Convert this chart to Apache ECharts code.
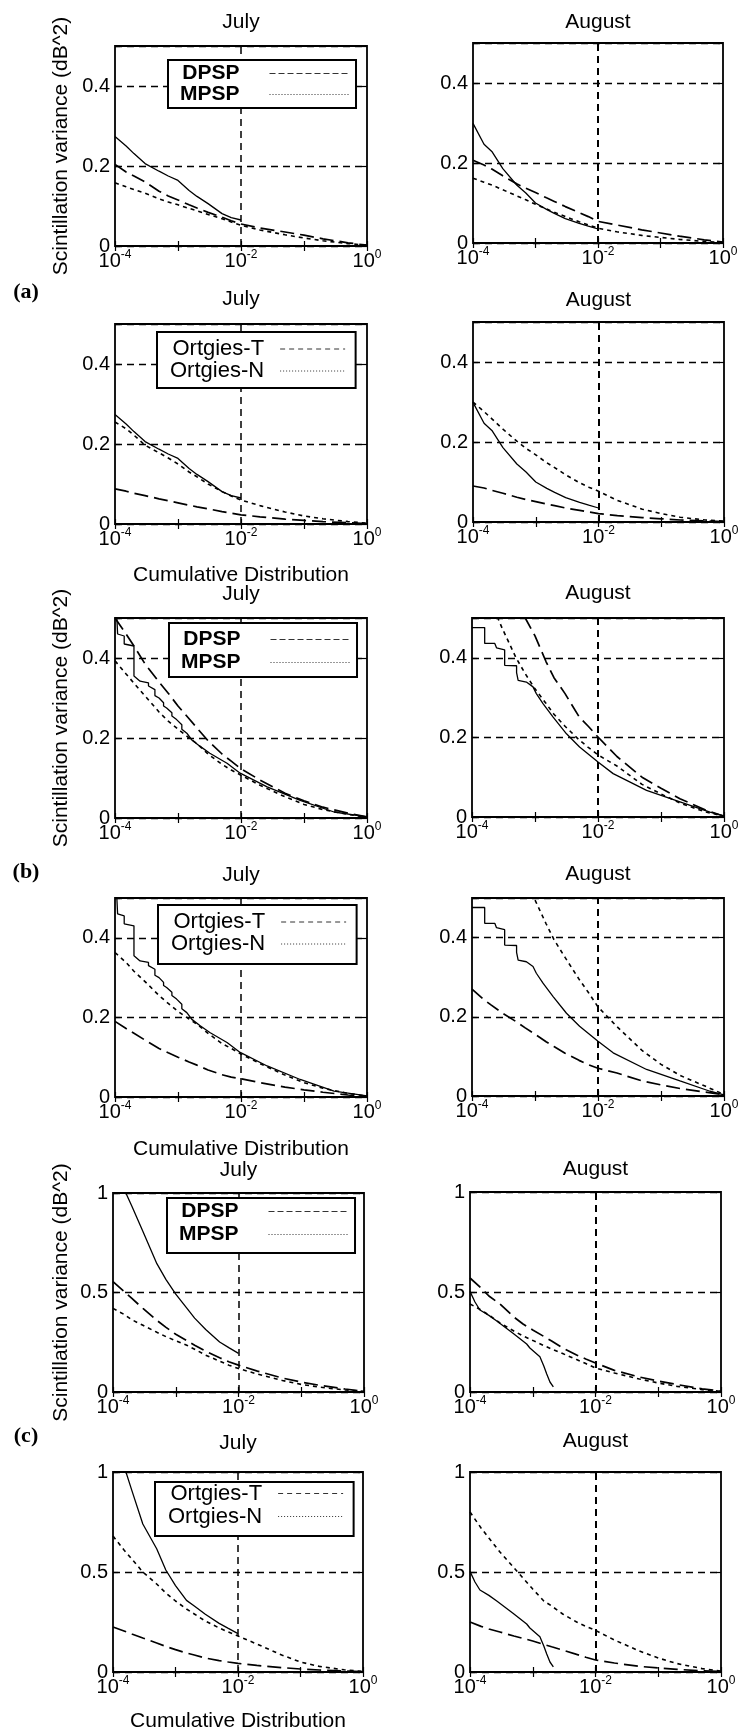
<!DOCTYPE html>
<html><head><meta charset="utf-8">
<script src="https://cdn.jsdelivr.net/npm/echarts@6/dist/echarts.min.js"></script>
<style>html,body{margin:0;padding:0;background:#fff}#c{width:742px;height:1734px}</style>
</head><body><div id="c"></div>
<script>
// ---------------- DATA ----------------
// shared x sample points (cumulative distribution)
const cdf = [1e-4,1.5e-4,2e-4,3e-4,5e-4,7e-4,1e-3,1.5e-3,2e-3,3e-3,5e-3,7e-3,1e-2,2e-2,5e-2,0.1,0.2,0.5,1];
const xTickLabels = ['10^-4','10^-2','10^0'];
const yTicksHalf = [0, 0.2, 0.4];
const yTicksOne = [0, 0.5, 1];

// (a) measured (on cdf grid, ends at 1e-2)
const measuredJulyA = [0.274,0.250,0.231,0.206,0.187,0.175,0.164,0.139,0.124,0.106,0.081,0.071,0.065];
const measuredAugA  = [0.299,0.247,0.229,0.186,0.145,0.125,0.100,0.084,0.074,0.061,0.049,0.042,0.035];
// (a) models
const dpspJulyA = [0.204,0.185,0.175,0.160,0.137,0.125,0.115,0.103,0.095,0.084,0.072,0.063,0.055,0.045,0.035,0.027,0.018,0.008,0.002];
const mpspJulyA = [0.158,0.148,0.141,0.132,0.118,0.110,0.103,0.094,0.088,0.079,0.068,0.060,0.052,0.040,0.028,0.020,0.013,0.006,0.002];
const dpspAugA  = [0.207,0.195,0.185,0.168,0.148,0.137,0.126,0.113,0.104,0.091,0.076,0.066,0.054,0.045,0.033,0.025,0.017,0.008,0.002];
const mpspAugA  = [0.162,0.152,0.145,0.133,0.118,0.108,0.097,0.085,0.077,0.066,0.053,0.045,0.037,0.028,0.019,0.014,0.009,0.004,0.001];
const ortgiesTJulyA = [0.088,0.082,0.077,0.071,0.063,0.058,0.053,0.047,0.043,0.038,0.031,0.027,0.023,0.018,0.012,0.009,0.006,0.003,0.001];
const ortgiesNJulyA = [0.255,0.238,0.222,0.197,0.178,0.165,0.150,0.130,0.118,0.100,0.081,0.070,0.060,0.046,0.030,0.020,0.013,0.006,0.002];
const ortgiesTAugA  = [0.090,0.085,0.079,0.072,0.062,0.056,0.051,0.045,0.041,0.035,0.029,0.025,0.021,0.016,0.011,0.008,0.005,0.003,0.001];
const ortgiesNAugA  = [0.300,0.276,0.258,0.232,0.202,0.184,0.168,0.148,0.136,0.118,0.098,0.087,0.077,0.054,0.032,0.021,0.012,0.005,0.002];

// (b) measured (stepped, [cdf, variance] pairs)
const measuredJulyB = [[1.07e-4,0.5],[1.1e-4,0.46],[1.4e-4,0.455],[1.4e-4,0.435],[2.0e-4,0.43],[2.0e-4,0.355],[2.5e-4,0.342],[3.4e-4,0.338],[3.4e-4,0.33],[4.3e-4,0.321],[4.3e-4,0.306],[5.0e-4,0.3],[5.9e-4,0.288],[5.9e-4,0.28],[6.6e-4,0.275],[8.0e-4,0.263],[8.0e-4,0.255],[9.5e-4,0.246],[1.15e-3,0.233],[1.15e-3,0.222],[1.38e-3,0.212],[1.66e-3,0.195],[2.25e-3,0.179],[3.2e-3,0.162],[6.0e-3,0.137],[9.7e-3,0.112],[2.6e-2,0.078],[8.7e-2,0.044],[0.3,0.015],[1,0.003]];
const measuredAugB = [[1.0e-4,0.476],[1.59e-4,0.476],[1.59e-4,0.436],[2.3e-4,0.436],[2.45e-4,0.425],[3.3e-4,0.42],[3.3e-4,0.381],[5.1e-4,0.38],[5.1e-4,0.363],[5.4e-4,0.343],[7.3e-4,0.339],[9.3e-4,0.327],[1.05e-3,0.31],[1.34e-3,0.285],[1.94e-3,0.251],[3.16e-3,0.209],[5.1e-3,0.176],[1e-2,0.138],[1.74e-2,0.109],[5.9e-2,0.067],[0.2,0.038],[0.6,0.012],[1,0.003]];
// (b) models
const dpspJulyB = [0.50,0.46,0.43,0.385,0.34,0.312,0.28,0.248,0.225,0.193,0.16,0.142,0.123,0.095,0.062,0.043,0.027,0.012,0.003];
const mpspJulyB = [0.393,0.36,0.337,0.305,0.265,0.242,0.222,0.2,0.186,0.16,0.134,0.12,0.107,0.082,0.053,0.034,0.021,0.009,0.002];
const dpspAugB  = [null,null,null,null,0.55,0.5,0.455,0.39,0.35,0.31,0.252,0.228,0.201,0.152,0.1,0.072,0.046,0.018,0.002];
const mpspAugB  = [null,null,0.54,0.475,0.40,0.36,0.322,0.285,0.258,0.228,0.194,0.175,0.156,0.128,0.082,0.058,0.035,0.013,0.002];
const ortgiesTJulyB = [0.19,0.172,0.16,0.143,0.122,0.111,0.1,0.088,0.08,0.068,0.056,0.05,0.046,0.036,0.025,0.018,0.012,0.005,0.001];
const ortgiesNJulyB = [0.363,0.338,0.316,0.29,0.255,0.235,0.215,0.196,0.183,0.16,0.134,0.122,0.108,0.084,0.055,0.036,0.022,0.009,0.002];
const ortgiesTAugB  = [0.27,0.245,0.23,0.21,0.188,0.172,0.156,0.137,0.125,0.108,0.09,0.079,0.07,0.058,0.038,0.028,0.019,0.01,0.003];
const ortgiesNAugB  = [null,null,null,null,null,0.55,0.495,0.435,0.395,0.35,0.295,0.262,0.225,0.175,0.115,0.08,0.052,0.025,0.004];

// (c) measured
const measuredJulyC1 = [null,1.02,0.933,0.806,0.645,0.565,0.492,0.421,0.371,0.314,0.251,0.223,0.194];
const measuredJulyC2 = [null,1.03,0.908,0.74,0.616,0.51,0.432,0.358,0.33,0.289,0.243,0.218,0.192];
const measuredAugC = [[1e-4,0.503],[1.2e-4,0.45],[1.44e-4,0.41],[2e-4,0.383],[2.67e-4,0.355],[4.9e-4,0.293],[8e-4,0.24],[9e-4,0.22],[1.3e-3,0.176],[1.5e-3,0.13],[1.67e-3,0.09],[1.88e-3,0.05],[2.13e-3,0.026]];
// (c) models
const dpspJulyC = [0.555,0.505,0.47,0.42,0.36,0.325,0.29,0.258,0.235,0.205,0.172,0.152,0.135,0.105,0.07,0.05,0.033,0.015,0.003];
const mpspJulyC = [0.42,0.39,0.363,0.335,0.3,0.278,0.258,0.235,0.215,0.185,0.155,0.135,0.118,0.09,0.058,0.038,0.024,0.01,0.003];
const dpspAugC  = [0.57,0.52,0.48,0.44,0.375,0.34,0.31,0.278,0.255,0.22,0.185,0.165,0.145,0.108,0.075,0.055,0.037,0.016,0.004];
const mpspAugC  = [0.44,0.41,0.385,0.345,0.305,0.28,0.258,0.232,0.215,0.192,0.162,0.142,0.12,0.095,0.065,0.045,0.028,0.012,0.003];
const ortgiesTJulyC = [0.225,0.205,0.19,0.17,0.145,0.128,0.112,0.095,0.085,0.07,0.057,0.05,0.043,0.033,0.022,0.015,0.01,0.005,0.002];
const ortgiesNJulyC = [0.68,0.61,0.565,0.5,0.44,0.395,0.355,0.315,0.29,0.255,0.22,0.2,0.18,0.14,0.085,0.05,0.028,0.011,0.003];
const ortgiesTAugC  = [0.25,0.228,0.215,0.2,0.18,0.168,0.155,0.138,0.126,0.11,0.088,0.074,0.06,0.045,0.028,0.02,0.013,0.006,0.002];
const ortgiesNAugC  = [0.8,0.72,0.67,0.6,0.522,0.47,0.415,0.355,0.33,0.29,0.25,0.228,0.208,0.16,0.105,0.07,0.042,0.017,0.005];

// ---------------- LAYOUT / STYLE ----------------
const FONT = '"Liberation Sans", Arial, Helvetica, sans-serif';
const grids = [
  {left:115, top:46, width:252, height:200}, {left:473, top:43, width:250, height:200},
  {left:115, top:324, width:252, height:200}, {left:473, top:322, width:251, height:200},
  {left:115, top:618, width:252, height:200}, {left:472, top:618, width:252, height:199},
  {left:115, top:898, width:252, height:199}, {left:472, top:898, width:252, height:198},
  {left:113, top:1193, width:251, height:199}, {left:470, top:1192, width:251, height:200},
  {left:113, top:1472, width:250, height:200}, {left:470, top:1472, width:251, height:200}
];
const titleY = [22,22,299,300,594,593,875,874,1170,1169,1443,1441];

const panels = [
  {title:'July',   ymax:0.5, meas:measuredJulyA, models:[['DPSP',dpspJulyA],['MPSP',mpspJulyA]]},
  {title:'August', ymax:0.5, meas:measuredAugA,  models:[['DPSP',dpspAugA],['MPSP',mpspAugA]]},
  {title:'July',   ymax:0.5, meas:measuredJulyA, models:[['Ortgies-T',ortgiesTJulyA],['Ortgies-N',ortgiesNJulyA]]},
  {title:'August', ymax:0.5, meas:measuredAugA,  models:[['Ortgies-T',ortgiesTAugA],['Ortgies-N',ortgiesNAugA]]},
  {title:'July',   ymax:0.5, meas:measuredJulyB, models:[['DPSP',dpspJulyB],['MPSP',mpspJulyB]]},
  {title:'August', ymax:0.5, meas:measuredAugB,  models:[['DPSP',dpspAugB],['MPSP',mpspAugB]]},
  {title:'July',   ymax:0.5, meas:measuredJulyB, models:[['Ortgies-T',ortgiesTJulyB],['Ortgies-N',ortgiesNJulyB]]},
  {title:'August', ymax:0.5, meas:measuredAugB,  models:[['Ortgies-T',ortgiesTAugB],['Ortgies-N',ortgiesNAugB]]},
  {title:'July',   ymax:1,   meas:measuredJulyC1, models:[['DPSP',dpspJulyC],['MPSP',mpspJulyC]]},
  {title:'August', ymax:1,   meas:measuredAugC,  models:[['DPSP',dpspAugC],['MPSP',mpspAugC]]},
  {title:'July',   ymax:1,   meas:measuredJulyC2, models:[['Ortgies-T',ortgiesTJulyC],['Ortgies-N',ortgiesNJulyC]]},
  {title:'August', ymax:1,   meas:measuredAugC,  models:[['Ortgies-T',ortgiesTAugC],['Ortgies-N',ortgiesNAugC]]}
];

const curveStyle = {
  'Measured':  {color:'#000', width:1.3, type:'solid'},
  'DPSP':      {color:'#000', width:1.7, type:[14,6]},
  'Ortgies-T': {color:'#000', width:1.7, type:[14,6]},
  'MPSP':      {color:'#000', width:1.6, type:[4,4]},
  'Ortgies-N': {color:'#000', width:1.6, type:[4,4]}
};
const legendSample = {
  'DPSP':      {color:'#333', width:1, type:[6,3]},
  'MPSP':      {color:'#333', width:1, type:[1,2]},
  'Ortgies-T': {color:'#333', width:1, type:[5,4]},
  'Ortgies-N': {color:'#333', width:1, type:[1,2]}
};
const legendBoxes = {
  0:  {left:168, top:60,   row:20, pad:[3,6,3,12],  bold:true,  fs:21, gap:25, w:80},
  2:  {left:157, top:332,  row:22, pad:[6,10,6,13], bold:false, fs:22, gap:11, w:65},
  4:  {left:169, top:623,  row:23, pad:[5,6,3,12],  bold:true,  fs:21, gap:25, w:80},
  6:  {left:158, top:905,  row:21, pad:[6,10,9,13], bold:false, fs:22, gap:11, w:65},
  8:  {left:167, top:1198, row:23, pad:[2,6,7,12],  bold:true,  fs:21, gap:25, w:80},
  10: {left:155, top:1482, row:23, pad:[0,10,8,13], bold:false, fs:22, gap:11, w:65}
};

function toPairs(arr) {
  if (Array.isArray(arr[0])) return arr.map(p => [p[0], p[1]]);
  const out = [];
  arr.forEach((v, i) => { if (v != null) out.push([cdf[i], v]); });
  return out;
}
function expLabel(v) {
  const e = Math.round(Math.log10(v));
  const lbl = '10^' + e;
  if (xTickLabels.indexOf(lbl) < 0) return '';
  return '{b|10}{s|' + e + '}';
}

const gridOpt = [], xAxes = [], yAxes = [], series = [], legends = [], texts = [];
panels.forEach((p, i) => {
  const g = grids[i];
  gridOpt.push(Object.assign({show:true, borderColor:'#000', borderWidth:1.8, backgroundColor:'transparent', outerBoundsMode:'none', containLabel:false}, g));
  const xCommon = {type:'log', logBase:10, gridIndex:i, min:1e-4, max:1, splitNumber:4,
    axisLine:{show:false}, splitLine:{show:false},
    axisTick:{show:true, inside:true, length:5, lineStyle:{color:'#000', width:1.2}}};
  xAxes.push(Object.assign({}, xCommon, {position:'bottom',
    axisLabel:{show:true, showMinLabel:true, showMaxLabel:true, margin:3, color:'#000', fontFamily:FONT,
      formatter: expLabel,
      rich:{b:{fontSize:20, fontFamily:FONT, color:'#000', lineHeight:22, verticalAlign:'bottom'},
            s:{fontSize:12, fontFamily:FONT, color:'#000', lineHeight:12, verticalAlign:'top'}}}}));
  xAxes.push(Object.assign({}, xCommon, {position:'top', axisLabel:{show:false}}));
  const ticks = p.ymax === 1 ? yTicksOne : yTicksHalf;
  const yCommon = {type:'value', gridIndex:i, min:0, max:p.ymax, interval: p.ymax === 1 ? 0.5 : 0.2,
    axisLine:{show:false},
    axisTick:{show:true, inside:true, length:5, lineStyle:{color:'#000', width:1.2}}};
  yAxes.push(Object.assign({}, yCommon, {position:'left',
    axisLabel:{show:true, showMinLabel:true, showMaxLabel:true, margin:5, color:'#000', fontSize:20, fontFamily:FONT,
      formatter: v => ticks.some(t => Math.abs(t - v) < 1e-9) ? String(v) : ''},
    splitLine:{show:true, lineStyle:{color:'#000', type:[7,5], width:1.4}}}));
  yAxes.push(Object.assign({}, yCommon, {position:'right', axisLabel:{show:false}, splitLine:{show:false}}));

  series.push({type:'line', name:'Measured', xAxisIndex:2*i, yAxisIndex:2*i, data:toPairs(p.meas),
    symbol:'none', showSymbol:false, clip:true, lineStyle:curveStyle['Measured'], z:3,
    markLine:{silent:true, symbol:['none','none'], label:{show:false}, animation:false,
      lineStyle:{color:'#000', type:[7,5], width: i % 2 ? 2 : 1.5}, data:[{xAxis:0.01}]}});
  p.models.forEach(m => {
    series.push({type:'line', name:m[0], xAxisIndex:2*i, yAxisIndex:2*i, data:toPairs(m[1]),
      symbol:'none', showSymbol:false, clip:true, lineStyle:curveStyle[m[0]], z:3});
  });

  const lb = legendBoxes[i];
  if (lb) {
    legends.push({show:true, orient:'vertical', align:'right', left:lb.left, top:lb.top,
      padding:lb.pad, itemGap:0, itemWidth:lb.w, itemHeight:10, selectedMode:false,
      borderColor:'#000', borderWidth:2, borderRadius:0, backgroundColor:'#fff', z:10,
      itemStyle:{opacity:0},
      textStyle:{color:'#000', fontFamily:FONT, fontSize:lb.fs, fontWeight: lb.bold ? 'bold' : 'normal',
        lineHeight:lb.row, padding:[0, lb.gap, 0, 0]},
      data: p.models.map(m => ({name:m[0], lineStyle:legendSample[m[0]], itemStyle:{opacity:0}}))});
  }

  // title over each panel
  texts.push({type:'text', x:g.left + g.width/2, y:titleY[i],
    style:{text:p.title, font:'21px ' + FONT, fill:'#000', align:'center', verticalAlign:'middle', textAlign:'center', textVerticalAlign:'middle'}});
});

// y-axis names (left column, rows 1,3,5)
[0,4,8].forEach(i => {
  const g = grids[i];
  texts.push({type:'text', x:61, y:g.top + g.height/2, rotation:Math.PI/2,
    style:{text:'Scintillation variance (dB^2)', font:'21px ' + FONT, fill:'#000', align:'center', verticalAlign:'middle', textAlign:'center', textVerticalAlign:'middle'}});
});
// x-axis names (left column, rows 2,4,6)
[[2,575],[6,1149],[10,1721]].forEach(([i, y]) => {
  const g = grids[i];
  texts.push({type:'text', x:g.left + g.width/2, y:y,
    style:{text:'Cumulative Distribution', font:'21px ' + FONT, fill:'#000', align:'center', verticalAlign:'middle', textAlign:'center', textVerticalAlign:'middle'}});
});
// group labels
[['(a)',26,292],['(b)',26,872],['(c)',26,1436]].forEach(([t, x, y]) => {
  texts.push({type:'text', x:x, y:y,
    style:{text:t, font:'bold 22px "Liberation Serif", "Times New Roman", serif', fill:'#000', align:'center', verticalAlign:'middle', textAlign:'center', textVerticalAlign:'middle'}});
});

const chart = echarts.init(document.getElementById('c'), null, {renderer:'canvas', width:742, height:1734});
chart.setOption({
  animation:false,
  backgroundColor:'#fff',
  grid:gridOpt, xAxis:xAxes, yAxis:yAxes, series:series, legend:legends,
  graphic:{elements:texts}
});
</script>
</body></html>
